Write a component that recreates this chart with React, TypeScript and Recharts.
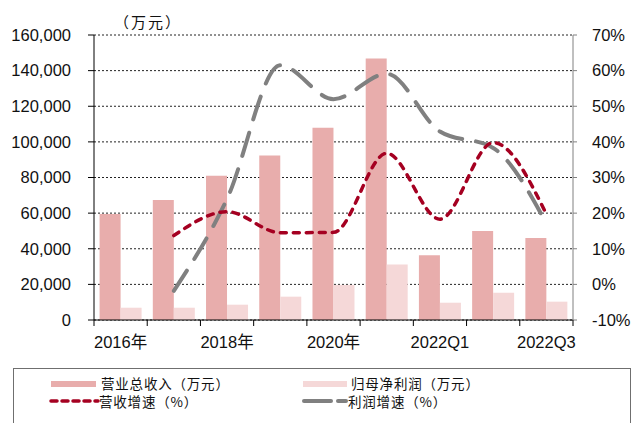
import { ComposedChart, Bar, Line, XAxis, YAxis, CartesianGrid } from "recharts";

const categories = ["2016年", "2017年", "2018年", "2019年", "2020年", "2021年", "2022Q1", "2022Q2", "2022Q3"];
const revenue = [59500, 67400, 81000, 92400, 108000, 146800, 36300, 50000, 46000];
const netProfit = [6900, 6900, 8600, 13100, 19700, 31200, 9700, 15300, 10300];
const revenueGrowth = [null, 13.7, 20.4, 14.5, 14.6, 36.8, 18.3, 39.8, 19.7];
const profitGrowth = [null, -1.8, 24, 61.5, 52, 59.1, 42.9, 38.3, 17.1];
const leftTicks = [0, 20000, 40000, 60000, 80000, 100000, 120000, 140000, 160000];
const rightTicks = [-10, 0, 10, 20, 30, 40, 50, 60, 70];

const data = categories.map((name, i) => ({
  name,
  revenue: revenue[i],
  netProfit: netProfit[i],
  revenueGrowth: revenueGrowth[i],
  profitGrowth: profitGrowth[i],
}));

const LEFT_W = 94;
const RIGHT_W = 63;
const W = 636;
const BAND = (W - LEFT_W - RIGHT_W) / categories.length;
const NUM_FONT = "'Liberation Sans', Arial, 'Noto Sans CJK SC', sans-serif";
const CJK_FONT = "'Noto Sans CJK SC', 'Liberation Serif', serif";

const XTick = (props: any) => {
  const { x, y, payload, index } = props;
  const last = index === categories.length - 1;
  return (
    <g>
      <line x1={x - BAND / 2} x2={x - BAND / 2} y1={y} y2={y + 6} stroke="#000" />
      {last && <line x1={x + BAND / 2} x2={x + BAND / 2} y1={y} y2={y + 6} stroke="#000" />}
      {index % 2 === 0 && (
        <text x={x} y={y + 28} textAnchor="middle" fontSize={16.5} fill="#111" fontFamily={NUM_FONT}>
          {payload.value}
        </text>
      )}
    </g>
  );
};

const App = () => {
  return (
    <div style={{ position: "absolute", left: 0, top: 0, width: W, height: 423, background: "#fff", overflow: "hidden" }}>
      <div
        style={{
          position: "absolute",
          left: 114,
          top: 11,
          fontSize: 15,
          fontFamily: CJK_FONT,
          color: "#111",
          letterSpacing: 2,
        }}
      >
        （万元）
      </div>
      <ComposedChart
        width={W}
        height={360}
        data={data}
        margin={{ top: 35, right: 0, bottom: 0, left: 0 }}
        barCategoryGap="10.5%"
        barGap={0}
      >
        <CartesianGrid yAxisId="left" vertical={false} stroke="#222" strokeDasharray="2 2" />
        <XAxis
          dataKey="name"
          height={40}
          interval={0}
          tickLine={false}
          tickSize={0}
          tickMargin={0}
          axisLine={{ stroke: "#000" }}
          tick={<XTick />}
        />
        <YAxis
          yAxisId="left"
          width={LEFT_W}
          domain={[0, 160000]}
          ticks={leftTicks}
          interval={0}
          tickSize={6}
          tickMargin={17}
          axisLine={{ stroke: "#000" }}
          tickLine={{ stroke: "#000" }}
          tick={{ fontSize: 16.5, fill: "#111", fontFamily: NUM_FONT }}
          tickFormatter={(v: number) => v.toLocaleString("en-US")}
        />
        <YAxis
          yAxisId="right"
          orientation="right"
          width={RIGHT_W}
          domain={[-10, 70]}
          ticks={rightTicks}
          interval={0}
          tickSize={4}
          tickMargin={15}
          axisLine={{ stroke: "#808080" }}
          tickLine={{ stroke: "#808080" }}
          tick={{ fontSize: 16.5, fill: "#111", fontFamily: NUM_FONT }}
          tickFormatter={(v: number) => `${v}%`}
        />
        <Bar yAxisId="left" dataKey="revenue" fill="#E8ADAC" isAnimationActive={false} />
        <Bar yAxisId="left" dataKey="netProfit" fill="#F5D8D8" isAnimationActive={false} />
        <Line
          yAxisId="right"
          type="monotone"
          dataKey="profitGrowth"
          stroke="#808080"
          strokeWidth={4}
          strokeDasharray="24 14"
          strokeLinecap="round"
          dot={false}
          isAnimationActive={false}
        />
        <Line
          yAxisId="right"
          type="monotone"
          dataKey="revenueGrowth"
          stroke="#A50021"
          strokeWidth={3.5}
          strokeDasharray="6 7"
          strokeLinecap="round"
          dot={false}
          isAnimationActive={false}
        />
      </ComposedChart>
      <div
        style={{
          position: "absolute",
          left: 13,
          top: 368,
          width: 616,
          height: 60,
          border: "1px solid #6f6f6f",
          borderBottom: "none",
          fontFamily: CJK_FONT,
          fontSize: 13.5,
          letterSpacing: 0.8,
          color: "#111",
        }}
      >
        <div style={{ position: "absolute", left: 37, top: 12, width: 45, height: 6, background: "#E8ADAC" }} />
        <div style={{ position: "absolute", left: 87, top: 5, lineHeight: "19px" }}>营业总收入（万元）</div>
        <div style={{ position: "absolute", left: 289, top: 12, width: 44, height: 6, background: "#F5D8D8" }} />
        <div style={{ position: "absolute", left: 337, top: 5, lineHeight: "19px" }}>归母净利润（万元）</div>
        <svg style={{ position: "absolute", left: 34, top: 26 }} width={52} height={12}>
          <line x1={3} x2={50} y1={6} y2={6} stroke="#A50021" strokeWidth={3.5} strokeDasharray="6 5" strokeLinecap="round" />
        </svg>
        <div style={{ position: "absolute", left: 85, top: 23, lineHeight: "19px" }}>营收增速（%）</div>
        <svg style={{ position: "absolute", left: 288, top: 26 }} width={48} height={12}>
          <line x1={2} x2={29} y1={6} y2={6} stroke="#808080" strokeWidth={4} strokeLinecap="round" />
          <line x1={36} x2={44} y1={6} y2={6} stroke="#808080" strokeWidth={4} strokeLinecap="round" />
        </svg>
        <div style={{ position: "absolute", left: 334, top: 23, lineHeight: "19px" }}>利润增速（%）</div>
      </div>
    </div>
  );
};

export default App;
